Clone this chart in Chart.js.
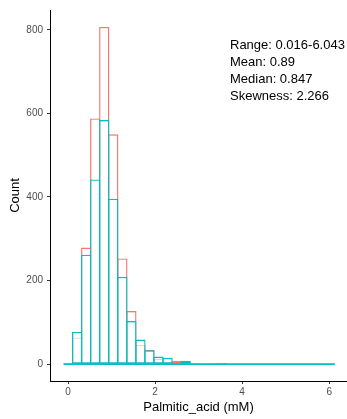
<!DOCTYPE html>
<html>
<head>
<meta charset="utf-8">
<script src="https://cdn.jsdelivr.net/npm/chart.js@4/dist/chart.umd.min.js"></script>
<style>
  body { margin: 0; background: #fff; }
  canvas { display: block; }
</style>
</head>
<body>
<canvas id="histChart" width="347" height="419"></canvas>
<script>
// Histogram bins (centres, mM) and counts for the two groups
const binCenters = [0, 0.208, 0.416, 0.623, 0.831, 1.039, 1.247, 1.455, 1.663, 1.870,
  2.078, 2.286, 2.494, 2.702, 2.910, 3.117, 3.325, 3.533, 3.741, 3.949,
  4.157, 4.364, 4.572, 4.780, 4.988, 5.196, 5.404, 5.611, 5.819, 6.027];
const groupOneCounts = [2, 64, 279, 588, 807, 550, 253, 127, 46, 34,
  13, 6, 8, 5, 2, 1, 2, 1, 0, 0,
  0, 0, 1, 0, 0, 0, 1, 0, 0, 1];
const groupTwoCounts = [1, 77, 262, 442, 584, 396, 209, 103, 59, 33,
  18, 15, 3, 8, 1, 1, 1, 3, 0, 1,
  0, 0, 1, 0, 0, 0, 1, 0, 0, 0];

const xTicks = [0, 2, 4, 6];
const yTicks = [0, 200, 400, 600, 800];

// Summary text shown in the top right
const statLines = ['Range: 0.016-6.043', 'Mean: 0.89', 'Median: 0.847', 'Skewness: 2.266'];

const RED = '#F8766D';
const CYAN = '#00BFC4';
const binHalf = (binCenters[1] - binCenters[0]) / 2;

const toPoints = counts => binCenters.map((c, i) => ({ x: c, y: counts[i] }));

const statsText = {
  id: 'statsText',
  afterDraw(chart) {
    const ctx = chart.ctx;
    ctx.save();
    ctx.font = '13px "Liberation Sans", Arial, sans-serif';
    ctx.fillStyle = '#000';
    ctx.textAlign = 'left';
    ctx.textBaseline = 'middle';
    statLines.forEach((t, i) => ctx.fillText(t, 230, 45 + i * 17));
    ctx.restore();
  }
};

const barStyle = {
  type: 'bar',
  grouped: false,
  categoryPercentage: 1,
  barPercentage: 1.14,
  borderWidth: 1.4,
  borderSkipped: false,
  backgroundColor: 'rgba(255,255,255,0.65)'
};

new Chart(document.getElementById('histChart'), {
  type: 'bar',
  data: {
    datasets: [
      { ...barStyle, data: toPoints(groupOneCounts), borderColor: RED, order: 2 },
      { ...barStyle, data: toPoints(groupTwoCounts), borderColor: CYAN, order: 1 },
      {
        // baseline under the empty bins
        type: 'line',
        data: [
          { x: binCenters[0] - binHalf, y: 0 },
          { x: binCenters[binCenters.length - 1] + binHalf, y: 0 }
        ],
        borderColor: CYAN,
        borderWidth: 1.6,
        pointRadius: 0,
        order: 0
      }
    ]
  },
  options: {
    responsive: false,
    animation: false,
    layout: { padding: { top: 10, right: 0, left: 0, bottom: 0 } },
    plugins: {
      legend: { display: false },
      tooltip: { enabled: false }
    },
    scales: {
      x: {
        type: 'linear',
        min: -0.416,
        max: 6.41,
        offset: false,
        afterFit: s => { s.height = 38; },
        afterBuildTicks: s => { s.ticks = xTicks.map(v => ({ value: v })); },
        grid: { offset: false, drawOnChartArea: false, drawTicks: true, tickLength: 3, tickColor: '#333' },
        border: { display: true, color: '#000', width: 1 },
        ticks: {
          color: '#4D4D4D',
          font: { family: '"Liberation Sans", Arial, sans-serif', size: 10 },
          padding: 2,
          maxRotation: 0,
          callback: v => v
        },
        title: {
          display: true,
          text: 'Palmitic_acid (mM)',
          color: '#000',
          font: { family: '"Liberation Sans", Arial, sans-serif', size: 13 },
          padding: { top: 0, bottom: 4 }
        }
      },
      y: {
        min: -40.35,
        max: 847.4,
        afterFit: s => { s.width = 50; },
        afterBuildTicks: s => { s.ticks = yTicks.map(v => ({ value: v })); },
        grid: { drawOnChartArea: false, drawTicks: true, tickLength: 3, tickColor: '#333' },
        border: { display: true, color: '#000', width: 1 },
        ticks: {
          color: '#4D4D4D',
          font: { family: '"Liberation Sans", Arial, sans-serif', size: 10 },
          padding: 4,
          callback: v => v
        },
        title: {
          display: true,
          text: 'Count',
          color: '#000',
          font: { family: '"Liberation Sans", Arial, sans-serif', size: 13 },
          padding: { top: 8, bottom: 0 }
        }
      }
    }
  },
  plugins: [statsText]
});
</script>
</body>
</html>
